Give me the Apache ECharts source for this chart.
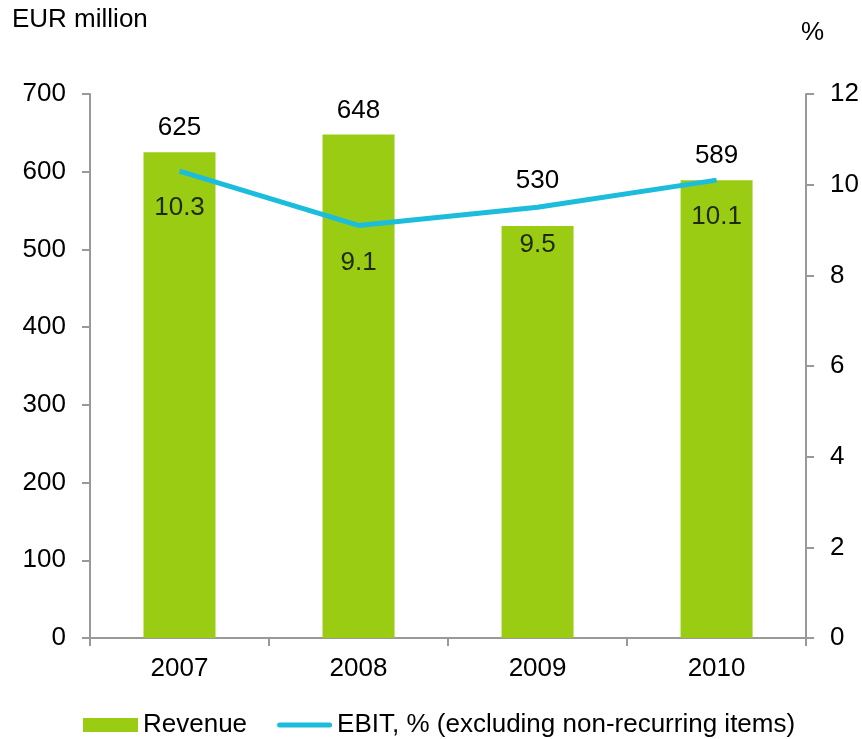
<!DOCTYPE html>
<html>
<head>
<meta charset="utf-8">
<script src="https://cdn.jsdelivr.net/npm/echarts@6/dist/echarts.min.js"></script>
<style>
  html, body { margin: 0; padding: 0; background: #fff; }
  #chart { width: 862px; height: 739px; }
</style>
</head>
<body>
<div id="chart"></div>
<script>
// Revenue (EUR million) and EBIT margin (%) by year
const years = ['2007', '2008', '2009', '2010'];
const revenue = [625, 648, 530, 589];
const ebitPct = [10.3, 9.1, 9.5, 10.1];
const revenueTicks = [0, 100, 200, 300, 400, 500, 600, 700];
const pctTicks = [0, 2, 4, 6, 8, 10, 12];

const FONT = '"Liberation Sans", Arial, sans-serif';
const FS = 26;
const AXIS_GREY = '#999999';
const TEXT = '#000000';
const GREEN = '#99CC13';
const CYAN = '#1BBCDC';
const EBIT_NAME = 'EBIT, % (excluding non-recurring items)';

// Thick rounded line used as the EBIT legend key (extra move-to points keep the full key box)
const LINE_KEY = 'path://M0,0 M0,14 M2.5,4.5 L52.5,4.5 A2.5,2.5 0 0 1 52.5,9.5 L2.5,9.5 A2.5,2.5 0 0 1 2.5,4.5 Z';

// The 2009 revenue label sits higher so it clears the EBIT line
const revenueData = revenue.map((v, i) =>
  years[i] === '2009' ? { value: v, label: { distance: 32 } } : v);

const chart = echarts.init(document.getElementById('chart'));
chart.setOption({
  animation: false,
  textStyle: { fontFamily: FONT },
  grid: { left: 90, right: 55, top: 94, bottom: 101, containLabel: false },
  graphic: [
    { type: 'text', left: 12, top: 7, style: { text: 'EUR million', font: FS + 'px ' + FONT, fill: TEXT } },
    { type: 'text', left: 801, top: 20, style: { text: '%', font: FS + 'px ' + FONT, fill: TEXT } }
  ],
  legend: {
    bottom: -4,
    left: 78,
    itemGap: 30,
    itemWidth: 55,
    itemHeight: 14,
    textStyle: { fontSize: FS, color: TEXT, fontFamily: FONT },
    data: [
      { name: 'Revenue', icon: 'rect' },
      { name: EBIT_NAME, icon: LINE_KEY }
    ]
  },
  xAxis: {
    type: 'category',
    data: years,
    axisLine: { lineStyle: { color: AXIS_GREY, width: 2 } },
    axisTick: { show: true, length: 8, lineStyle: { color: AXIS_GREY, width: 2 } },
    axisLabel: { fontSize: FS, color: TEXT, margin: 18, fontFamily: FONT }
  },
  yAxis: [
    {
      type: 'value',
      min: revenueTicks[0],
      max: revenueTicks[revenueTicks.length - 1],
      interval: revenueTicks[1] - revenueTicks[0],
      splitLine: { show: false },
      axisLine: { show: true, lineStyle: { color: AXIS_GREY, width: 2 } },
      axisTick: { show: true, length: 8, lineStyle: { color: AXIS_GREY, width: 2 } },
      axisLabel: { fontSize: FS, color: TEXT, margin: 24, fontFamily: FONT }
    },
    {
      type: 'value',
      min: pctTicks[0],
      max: pctTicks[pctTicks.length - 1],
      interval: pctTicks[1] - pctTicks[0],
      splitLine: { show: false },
      axisLine: { show: true, lineStyle: { color: AXIS_GREY, width: 2 } },
      axisTick: { show: true, length: 8, lineStyle: { color: AXIS_GREY, width: 2 } },
      axisLabel: { fontSize: FS, color: TEXT, margin: 24, fontFamily: FONT }
    }
  ],
  series: [
    {
      name: 'Revenue',
      type: 'bar',
      data: revenueData,
      barWidth: 72,
      itemStyle: { color: GREEN },
      label: { show: true, position: 'top', distance: 11, fontSize: FS, color: TEXT, fontFamily: FONT }
    },
    {
      name: EBIT_NAME,
      type: 'line',
      yAxisIndex: 1,
      data: ebitPct,
      symbol: 'none',
      z: 3,
      lineStyle: { color: CYAN, width: 5 },
      itemStyle: { color: CYAN }
    },
    {
      // value labels for the EBIT line, placed just under each point
      name: 'EBIT labels',
      type: 'scatter',
      yAxisIndex: 1,
      data: ebitPct,
      symbolSize: 0,
      silent: true,
      z: 4,
      label: { show: true, position: 'bottom', distance: 24, fontSize: FS, color: TEXT, fontFamily: FONT,
               formatter: p => p.value.toFixed(1) }
    }
  ]
});
</script>
</body>
</html>
